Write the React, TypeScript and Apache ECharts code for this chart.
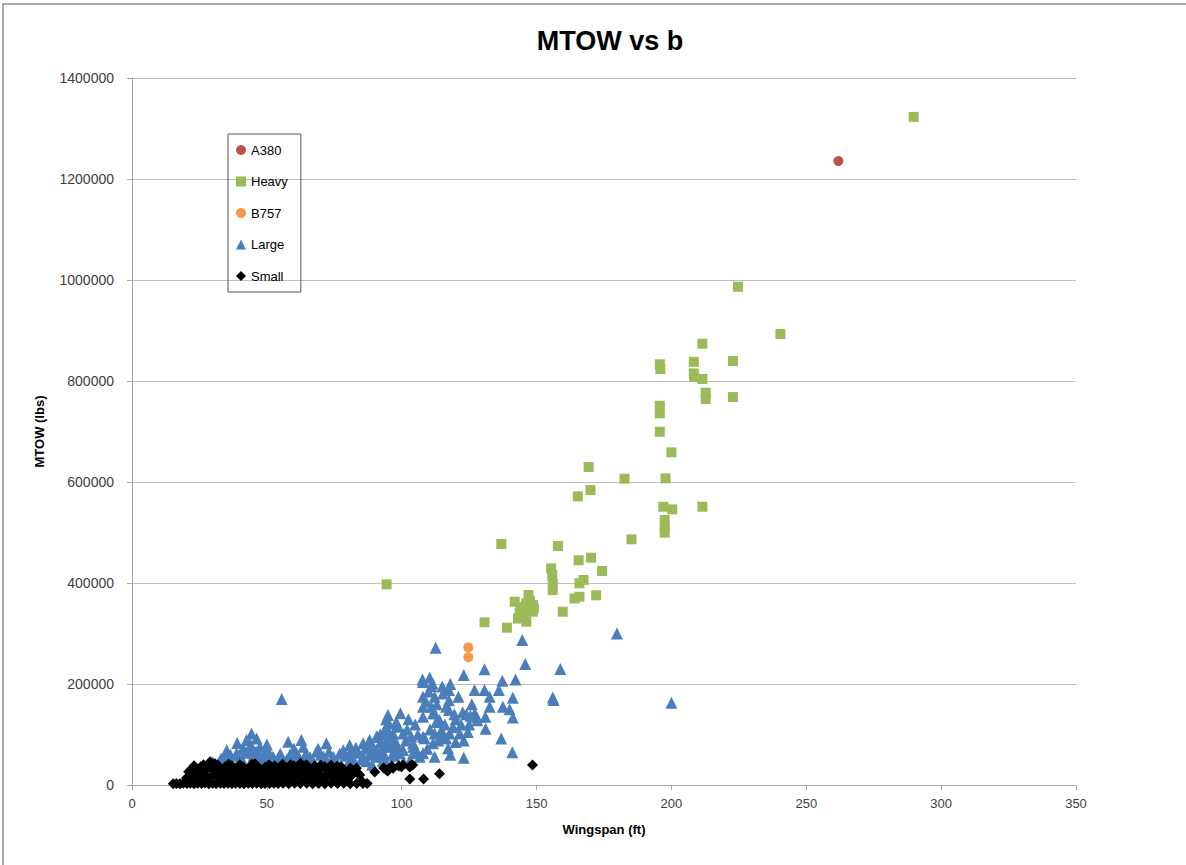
import React, { useEffect, useRef } from "react";
import * as echarts from "echarts";

const xTicks = [0, 50, 100, 150, 200, 250, 300, 350];
const yTicks = [0, 200000, 400000, 600000, 800000, 1000000, 1200000, 1400000];

const a380: [number, number][] = [[261.9, 1235500]];

const heavy: [number, number][] = [
  [289.8, 1323000], [224.7, 986600], [240.4, 893000], [211.5, 873800], [222.8, 839500],
  [195.7, 833000], [195.9, 823700], [208.3, 838000], [208.3, 815000], [208.4, 808000],
  [211.5, 804000], [212.7, 776800], [212.7, 764300], [222.8, 768200], [195.7, 751000],
  [195.7, 736000], [195.7, 699500], [200, 658700], [169.3, 629600], [182.6, 606500],
  [197.8, 607200], [170, 584000], [165.3, 571600], [197, 551000], [200.3, 545800],
  [211.5, 551000], [197.5, 524700], [197.5, 511500], [197.5, 499600], [185.2, 486500],
  [136.9, 477200], [157.9, 473200], [165.6, 445000], [170.2, 450100], [174.3, 423700],
  [155.4, 429000], [155.8, 415800], [156, 399400], [156, 386000], [165.9, 399400],
  [167.4, 406000], [172.1, 375600], [164.1, 369300], [165.9, 372800], [94.4, 397400],
  [159.7, 343100], [130.7, 322200], [139, 311500], [147, 376200], [141.9, 363000],
  [146.2, 359700], [148.6, 356400], [146.2, 346500], [148.6, 343100], [143.1, 329700],
  [146.2, 323400], [143.7, 340000], [145, 335000], [147.5, 365000], [149, 350000], [144, 352000],
];

const b757: [number, number][] = [[124.7, 272500], [124.7, 253000]];

const large: [number, number][] = [
  [179.8, 300000], [200, 163000], [112.6, 272000], [144.7, 287000], [145.8, 239600],
  [158.8, 229700], [123, 217800], [130.7, 229000], [156, 173300], [156.3, 168300], [55.5, 170300],
  [107.7, 209000], [110.4, 212900], [111.4, 201000], [107.9, 204000], [111, 196000],
  [117.5, 188100], [127, 188000], [130.7, 188000], [132.6, 174800], [136, 188000],
  [137.3, 206500], [142.2, 209000], [141.2, 173000], [132.6, 155000], [137.5, 155000],
  [141.2, 133600], [131.1, 111500], [136.9, 92000], [141, 64700], [123, 54000],
  [122.6, 144000], [124, 140000], [125.5, 137000], [127, 141000], [127.8, 135000],
  [117.5, 168000], [117.5, 148500], [112.2, 174800], [112.2, 141900], [114, 128700],
  [107.9, 174800], [107.9, 155000], [107.9, 135000], [111, 155000], [111.6, 141900],
  [115.3, 181000], [116.5, 155000], [112.8, 125000], [114.7, 109000], [116.5, 92000],
  [99.5, 142000], [94.9, 138600], [98.6, 115400], [104.2, 82600], [108.5, 92500],
  [112.2, 102000], [114.7, 95700], [117.2, 72700], [117.8, 102000], [121.5, 102000],
  [99.3, 62700], [95.6, 75800], [104.2, 62700], [107.9, 62700], [112.2, 56000],
  [94.3, 115000], [96.8, 102000], [98, 82600], [100.5, 102000], [104.2, 75800],
  [106.7, 56000], [107.9, 95600], [111.6, 82600],
  [80.7, 49500], [85.7, 56000], [90.6, 69300], [94.3, 43000], [96.8, 62700], [100.5, 69300],
  [93, 48000], [93.5, 60000], [94, 76000], [94.6, 90000], [95, 106000], [95.3, 122000],
  [94.2, 130000], [92.5, 70000], [91.2, 56000], [92.2, 85000], [96.2, 82000], [97.3, 58000],
  [89.5, 75000], [91, 95000], [88, 60000], [86.5, 72000],
  [44.3, 102000], [42.5, 89000], [46.2, 92000], [35.1, 69000], [38.8, 62700], [41.2, 72700],
  [43.7, 69300], [47.4, 75800], [49.9, 69300], [52.3, 56000], [57.9, 85700], [62.8, 89000],
  [63.5, 75800], [72.1, 82600], [68.4, 66000], [59.7, 49500], [78.3, 69000], [80.7, 79000],
  [85.7, 82600], [88.1, 89000], [90.6, 95600],
  [34.4, 56000], [36.3, 46000], [32, 43000], [37.5, 36000], [57.3, 49500], [61, 62700],
  [63.5, 49500], [72.1, 49500], [74.6, 56000],
  [40, 50000], [45, 58000], [48, 48000], [53, 45000], [55, 62000], [66, 55000], [70, 60000],
  [76, 45000], [82, 52000], [84, 64000], [28, 38000], [30, 45000], [50, 80000], [39, 83000],
  [65, 45000], [87, 47000], [89, 40000], [77, 62000], [100.7, 45000], [103, 48000],
  [120, 130000], [119, 115000], [125, 120000], [128, 128000], [131, 135000], [126, 160000],
  [121, 175000], [105, 120000], [102, 110000], [98, 125000], [118, 200000], [115, 195000],
  [110, 185000], [140, 150000], [120, 85000], [123, 88000], [118, 60000],
  [33, 52000], [36.5, 60000], [39.5, 58000], [41, 48000], [42, 64000], [44, 80000],
  [46, 66000], [47.5, 58000], [49, 52000], [51, 62000], [54, 52000], [56, 44000],
  [58.5, 60000], [60, 72000], [62, 54000], [64.5, 62000], [67, 48000], [69, 72000],
  [71, 56000], [73, 66000], [75, 52000], [79, 58000], [81, 66000], [83, 74000],
  [85, 50000], [87.5, 80000], [90, 62000], [92, 100000], [93.8, 110000], [96, 95000],
  [98.5, 70000], [101.5, 88000], [103.5, 96000], [105.5, 68000], [109.5, 72000],
  [110.5, 110000], [113.5, 88000], [116, 120000], [119.5, 140000], [122, 120000],
  [124.5, 105000], [109, 165000], [113, 160000], [106, 100000], [102.5, 130000],
];

const small: [number, number][] = [
  [15.3, 2600], [16.5, 3100], [17.8, 2400], [19, 3400], [20.4, 2800], [21.6, 3600], [23, 2500],
  [24.3, 3300], [25.8, 2900], [27.1, 3800], [28.5, 2600], [29.9, 3200], [31.2, 2700], [32.8, 3500],
  [34.1, 2900], [35.6, 3300], [37, 2500], [38.4, 3600], [40, 3000], [41.5, 2700], [43.1, 3400],
  [44.6, 2900], [46.2, 3500], [47.9, 2600], [49.3, 3100], [51, 2800], [52.6, 3700], [54.2, 2900],
  [56, 3300], [58.1, 2600], [60.3, 3400], [62.4, 2800], [64.8, 3600], [67, 2500], [69.2, 3100],
  [71.5, 2700], [73.8, 3300], [76.2, 2900], [78.5, 3400], [80.9, 2600], [83.3, 3000], [85.6, 2800],
  [87.2, 3200],
  [20.2, 14000], [21, 26000], [22.3, 32000], [23.5, 19000], [24.6, 29000], [25.5, 36000],
  [26.8, 23000], [27.5, 31000], [28.4, 40000], [29, 46000], [29.8, 34000], [30.5, 27000],
  [31.3, 18000], [31.9, 39000], [33, 31000], [33.8, 24000], [34.6, 36000], [35.3, 16000],
  [36.2, 29000], [37, 38000], [37.8, 22000], [38.7, 33000], [39.6, 27000], [40.4, 17000],
  [41.2, 36000], [42, 30000], [42.8, 23000], [43.6, 34000], [44.5, 41000], [45.3, 27000],
  [46.1, 37000], [46.9, 19000], [47.8, 31000], [48.6, 24000], [49.4, 35000], [50.3, 28000],
  [51.1, 16000], [52, 32000], [52.9, 38000], [53.7, 25000], [54.6, 30000], [55.5, 21000],
  [56.3, 35000], [57.2, 27000], [58.1, 33000], [59, 18000], [59.9, 38000], [60.8, 29000],
  [61.7, 24000], [62.5, 43000], [63.3, 34000], [64.2, 27000], [65.1, 37000], [66, 21000],
  [66.9, 31000], [67.8, 38000], [68.7, 26000], [69.6, 33000], [70.5, 17000], [71.4, 36000],
  [72.3, 29000], [73.2, 24000], [74.1, 34000], [75, 28000], [76, 37000], [77, 22000],
  [78, 31000], [79, 26000], [80, 14000], [81, 33000], [82, 24000], [83.2, 33000],
  [84.4, 19800], [80.7, 16400], [85.5, 6000], [83.7, 23800], [90, 25700],
  [21.8, 20000], [24, 12000], [26, 16000], [28, 13000], [30, 21000], [32.4, 14000],
  [34, 20000], [36.8, 13000], [39, 18000], [41.6, 12000], [44, 16000], [46.5, 12000],
  [49, 15000], [51.6, 22000], [54, 13000], [56.8, 16000], [58.6, 12000], [61, 17000],
  [63.6, 14000], [65.6, 12000], [67.4, 16000], [69.2, 13000], [71.8, 14000], [74.6, 16000],
  [76.6, 12000], [78.6, 15000], [81.6, 20000], [23, 38000], [26.5, 40000], [30.8, 42000],
  [35.8, 41000], [40, 40000], [45.6, 42000], [50.8, 40000], [55.8, 41000], [58.8, 40000],
  [64.6, 40000], [70, 39000], [73.8, 39000], [77.6, 36000],
  [93.3, 33700], [94.8, 27700], [96.3, 37600], [98.9, 37600], [100.4, 39600], [103, 35600],
  [104.1, 39600], [103, 11900], [108.1, 11900], [114, 22500], [148.5, 39600], [94.3, 29700],
  [96.8, 33000], [99.9, 36200], [103.6, 39600],
];

export default function App() {
  const ref = useRef<HTMLDivElement>(null);
  useEffect(() => {
    if (!ref.current) return;
    const chart = echarts.init(ref.current, null, { renderer: "svg" });
    const font = "'Liberation Sans', Arial, sans-serif";
    chart.setOption({
      animation: false,
      backgroundColor: "#ffffff",
      textStyle: { fontFamily: font },
      title: {
        text: "MTOW vs b",
        left: 605,
        top: 22,
        textAlign: "center",
        textStyle: { fontSize: 27, fontWeight: "bold", color: "#000", fontFamily: font },
      },
      graphic: [
        {
          type: "rect",
          shape: { x: 3, y: 4, width: 1200, height: 900 },
          style: { fill: "none", stroke: "#8c8c8c", lineWidth: 1.5 },
          silent: true,
        },
      ],
      legend: {
        orient: "vertical",
        left: 228,
        top: 134,
        padding: [8, 13, 8, 8],
        itemGap: 15.5,
        itemWidth: 10,
        itemHeight: 10,
        borderColor: "#555",
        borderWidth: 1,
        textStyle: { fontSize: 13, color: "#000", lineHeight: 16, fontFamily: font },
        data: ["A380", "Heavy", "B757", "Large", "Small"],
      },
      grid: { left: 132, right: 110, top: 78, bottom: 80 },
      xAxis: {
        type: "value",
        min: xTicks[0],
        max: xTicks[xTicks.length - 1],
        interval: 50,
        name: "Wingspan (ft)",
        nameLocation: "middle",
        nameGap: 38,
        nameTextStyle: { fontSize: 13, fontWeight: "bold", color: "#000" },
        axisLine: { show: true, lineStyle: { color: "#a6a6a6" } },
        axisTick: { show: true, length: 5, lineStyle: { color: "#a6a6a6" } },
        axisLabel: { fontSize: 13, color: "#404040", margin: 12 },
        splitLine: { show: false },
      },
      yAxis: {
        type: "value",
        min: yTicks[0],
        max: yTicks[yTicks.length - 1],
        interval: 200000,
        name: "MTOW (lbs)",
        nameLocation: "middle",
        nameGap: 86,
        nameTextStyle: { fontSize: 13, fontWeight: "bold", color: "#000" },
        axisLine: { show: true, lineStyle: { color: "#a6a6a6" } },
        axisTick: { show: true, length: 5, lineStyle: { color: "#a6a6a6" } },
        axisLabel: { fontSize: 14, color: "#404040", margin: 18, formatter: (v: number) => String(v) },
        splitLine: { show: true, lineStyle: { color: "#bfbfbf", width: 1 } },
      },
      series: [
        { name: "A380", type: "scatter", data: a380, symbol: "circle", symbolSize: 10, itemStyle: { color: "#C0504D", opacity: 1 } },
        { name: "Heavy", type: "scatter", data: heavy, symbol: "rect", symbolSize: 10, itemStyle: { color: "#9BBB59", opacity: 1 } },
        { name: "B757", type: "scatter", data: b757, symbol: "circle", symbolSize: 10, itemStyle: { color: "#F79646", opacity: 1 } },
        { name: "Large", type: "scatter", data: large, symbol: "triangle", symbolSize: 12, itemStyle: { color: "#4A7EBB", opacity: 1 } },
        { name: "Small", type: "scatter", data: small, symbol: "diamond", symbolSize: 11, itemStyle: { color: "#000000", opacity: 1 } },
      ],
    });
    return () => chart.dispose();
  }, []);
  return <div ref={ref} style={{ position: "absolute", left: 0, top: 0, width: 1186, height: 865 }} />;
}
